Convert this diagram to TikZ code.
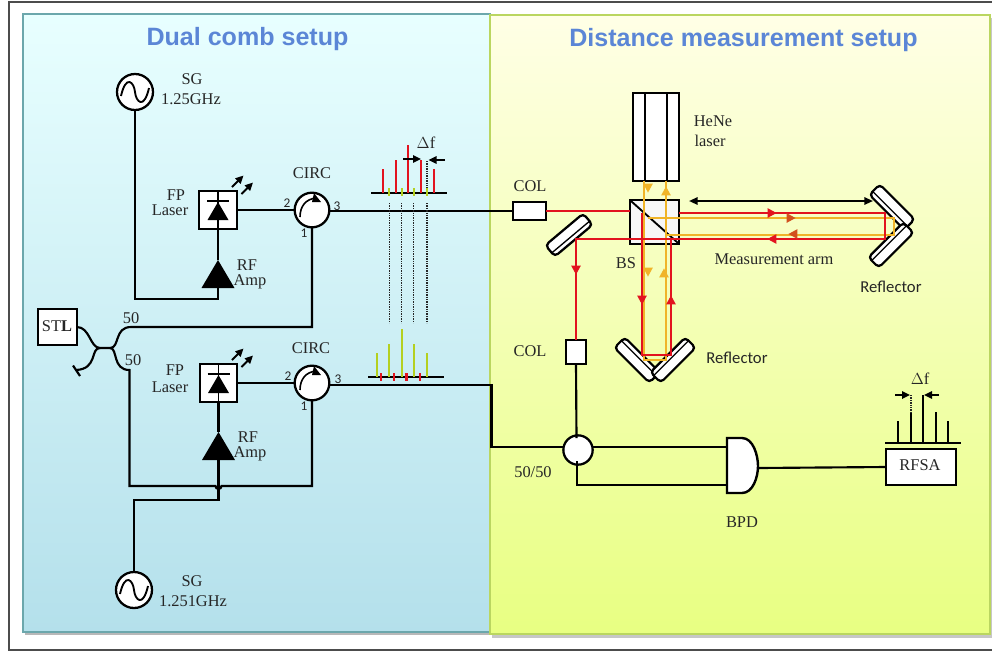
\documentclass[tikz,border=0pt]{standalone}
\usepackage{fontspec}
\setmainfont{Liberation Serif}
\newfontfamily\titlefont{Liberation Sans}
\newfontfamily\calfont{Carlito}
\usetikzlibrary{arrows.meta,calc,shapes.geometric}
\definecolor{titleblue}{HTML}{5B86D6}
\definecolor{beamred}{HTML}{E2131F}
\definecolor{beamyel}{HTML}{F0B428}
\definecolor{beamorg}{HTML}{D2501E}
\definecolor{combgreen}{HTML}{B4D020}
\definecolor{inkk}{HTML}{262626}
\tikzset{
  wire/.style={draw=black,line width=1.6pt},
  box/.style={draw=black,line width=1.7pt,fill=white,inner sep=0pt,outer sep=0pt},
  roundel/.style={circle,draw=black,line width=1.7pt,fill=white,inner sep=0pt,outer sep=0pt},
  lab/.style={font=\fontsize{12.3}{13}\selectfont,text=inkk,inner sep=0pt},
  numlab/.style={font=\calfont\fontsize{10}{11}\selectfont,text=inkk,inner sep=0pt},
  reflab/.style={font=\calfont\fontsize{12.5}{13}\selectfont,text=inkk,inner sep=0pt},
  titlelab/.style={font=\titlefont\bfseries\fontsize{18.8}{20}\selectfont,text=titleblue,inner sep=0pt},
  redbeam/.style={draw=beamred,line width=1.4pt},
  yelbeam/.style={draw=beamyel,line width=1.4pt},
  dots/.style={draw=black!85,line width=1pt,dash pattern=on 1.1pt off 0.7pt},
  tick/.style={line width=1.7pt},
  bigarrow/.style={-{Triangle[length=6pt,width=5.5pt]},line width=1.5pt,draw=black},
}
\newcommand{\atip}[3]{\fill[#3,shift={(#1)},rotate=#2] (3.4pt,0pt) -- (-3.2pt,3.6pt) -- (-3.2pt,-3.6pt) -- cycle;}
\newcommand{\mirrorpart}[3]{%
  \node[box,rectangle,rounded corners=3pt,minimum width=37pt,minimum height=11pt,rotate=#3] (#1) at (#2) {};
  \draw[line width=1pt] ($(#1.south west)!0.32!(#1.north west)$) -- ($(#1.south east)!0.32!(#1.north east)$);}
\newcommand{\sinewave}[1]{\draw[line width=1.4pt] ($(#1)+(-14,4)$) .. controls ($(#1)+(-9,-18)$) and ($(#1)+(-1,-10)$) .. ($(#1)+(0,0)$) .. controls ($(#1)+(1,10)$) and ($(#1)+(9,18)$) .. ($(#1)+(14,-4)$);}
\newcommand{\circarrow}[1]{\draw[line width=1.2pt] ($(#1)+(-12,7)$) .. controls ($(#1)+(-12,-4)$) and ($(#1)+(-6,-11)$) .. ($(#1)+(4,-12)$);
  \fill ($(#1)+(2,-17)$) -- ($(#1)+(9,-8)$) -- ($(#1)+(0,-8)$) -- cycle;}
\newcommand{\diode}[1]{\draw[line width=1.4pt] ($(#1)+(0,-19)$) -- ($(#1)+(0,19)$);
  \draw[line width=1.5pt] ($(#1)+(-11,-9)$) -- ($(#1)+(11,-9)$);
  \fill ($(#1)+(0,-8)$) -- ($(#1)+(10.5,10)$) -- ($(#1)+(-10.5,10)$) -- cycle;}
\begin{document}
\begin{tikzpicture}[x=0.75pt,y=-0.75pt]
\useasboundingbox (0,0) rectangle (992,651);
% page frame
\fill[white] (0,0) rectangle (992,651);
\draw[draw=black!70,line width=0.9pt] (992,2) -- (9,2) -- (9,650) -- (992,650);
% panel shadows
\fill[black!28] (25,17) rectangle (493,635);
\fill[black!22] (492,18) rectangle (992,638);
% panels
\draw[draw=none,top color={rgb,255:red,232;green,255;blue,255},bottom color={rgb,255:red,180;green,224;blue,235}] (23,14) rectangle (490,632);
\draw[draw=none,top color={rgb,255:red,255;green,255;blue,230},bottom color={rgb,255:red,232;green,255;blue,130}] (490,15) rectangle (990,634);
\draw[draw={rgb,255:red,108;green,167;blue,172},line width=1.1pt] (23,14) rectangle (490,632);
\draw[draw={rgb,255:red,186;green,214;blue,96},line width=1.1pt] (490,15) rectangle (990,634);
% titles
\node[titlelab] (t1) at (247.5,39) {Dual comb setup};
\node[titlelab] (t2) at (743.5,40) {Distance measurement setup};

% ---------- sources and boxes, left panel
\node[roundel,minimum size=27pt] (sgA) at (135,92) {};
\node[roundel,minimum size=27pt] (sgB) at (134,590) {};
\node[box,minimum size=28.5pt] (fpA) at (218,210) {};
\node[box,minimum size=28pt] (fpB) at (218.5,383) {};
\node[roundel,minimum size=26pt] (cirA) at (312,210) {};
\node[roundel,minimum size=26pt] (cirB) at (312,383) {};
\node[box,minimum width=29pt,minimum height=27pt] (stl) at (57.5,327) {};
\coordinate (ampAtop) at (218,260);
\coordinate (ampAbot) at (218,288);
\coordinate (ampBtop) at (218.5,432);
\coordinate (ampBbot) at (218.5,460);

% wires left
\coordinate (a1) at (218,299);
\draw[wire] (sgA.south) -- (135,299) -- (a1) -- (ampAbot);
\draw[wire] (ampAtop) -- (fpA.south);
\draw[wire] (fpA.east) -- (cirA.west);
\coordinate (cpTL) at (100,348);
\coordinate (cpTR) at (110,348);
\draw[wire] (stl.east) .. controls (90,327) and (90,348) .. (cpTL) -- (cpTR)
  .. controls (120,348) and (114,327) .. (131,327) -- (312,327) -- (cirA.south);
\coordinate (term) at (76,370);
\draw[wire] (cpTL) .. controls (90,348) and (98,369) .. (term);
\draw[wire] (73,365.5) -- (80,376);
\draw[wire] (cpTR) .. controls (118,348) and (112,370) .. (129.5,370) -- (129.5,486) -- (215.5,486)
  arc[start angle=180,end angle=0,radius=3] -- (312,486) -- (cirB.south);
\draw[wire] (ampBtop) -- (fpB.south);
\draw[wire] (ampBbot) -- (218.5,500) -- (134,500) -- (sgB.north);
\draw[wire] (fpB.east) -- (cirB.west);
% wires to right panel
\node[box,minimum width=24.5pt,minimum height=13.5pt] (colA) at (529.5,211) {};
\node[box,minimum width=15pt,minimum height=18pt] (colB) at (576,352) {};
\node[roundel,minimum size=22pt] (cpl) at (578,450) {};
\draw[wire] (cirA.east|-colA.west) -- (colA.west);
\draw[wire] (cirB.east|-0,385) -- (491.5,385) -- (491.5,447) -- (cpl.west|-0,447);
\draw[wire] (colB.south) -- (576.5,438);
% amps
\fill (ampAtop) -- (234.5,288) -- (201.5,288) -- cycle;
\fill (ampBtop) -- (235,460) -- (202,460) -- cycle;
\diode{fpA}
\diode{fpB}
\sinewave{sgA}
\sinewave{sgB}
\circarrow{cirA}
\circarrow{cirB}
\foreach \s in {0,173}{
  \draw[bigarrow] (232,{187+\s}) -- (243.5,{175.5+\s});
  \draw[bigarrow] (241.5,{194+\s}) -- (253,{182.5+\s});
}
% dotted
\foreach \x in {389.3,401.3,413.5,427}{\draw[dots] (\x,203) -- (\x,323);}
\draw[dots] (427,161) -- (427,190);
% comb A
\draw[line width=1.1pt] (371,193) -- (447,193);
\foreach \x/\y in {383/169,396/160,408/145,421/160,434/169}{\draw[tick,draw=beamred] (\x,193) -- (\x,\y);}
\foreach \x in {389,402,414,427}{\draw[tick,draw=combgreen] (\x,188) -- (\x,196);}
\draw[bigarrow] (403,159) -- (421,159);
\draw[bigarrow] (445,160) -- (428.5,160);
% comb B
\draw[line width=1.1pt] (368,377) -- (444,377);
\foreach \x/\y in {377/353,389/344,402/329,414/344,427/353}{\draw[tick,draw=combgreen] (\x,377) -- (\x,\y);}
\foreach \x in {381,394,406.6,420}{\draw[tick,draw=beamred] (\x,373) -- (\x,381);}

% ---------- right panel
\node[box,minimum width=34.5pt,minimum height=66pt] (hene) at (656,137) {};
\draw[line width=1.5pt] (645,93) -- (645,181);
\draw[line width=1.5pt] (667,93) -- (667,181);
\node[box,fill=black!3,minimum width=37pt,minimum height=33pt] (bs) at (654.5,222) {};
\draw[line width=1.4pt] (bs.north west) -- (bs.south east);
\mirrorpart{mL}{569,235}{40}
\mirrorpart{mBL}{637,360}{135}
\mirrorpart{mBR}{673,360}{225}
\mirrorpart{mRT}{892,207}{-45}
\mirrorpart{mRB}{891,245}{225}
% yellow beams
\draw[yelbeam] (644,181) -- (644,360) -- (666,360) -- (666,181);
\draw[yelbeam] (648,218) -- (894,218) -- (894,235) -- (666,235);
% red beams
\draw[redbeam] (colA.east) -- (bs.west|-0,211);
\draw[redbeam] (642,213) -- (642,355) -- (671,355) -- (671,239);
\draw[redbeam] (bs.east|-0,213) -- (885,213) -- (885,239) -- (576,239) -- (colB.north);
% tips
\atip{648,188}{-90}{beamyel}
\atip{666,191}{90}{beamyel}
\atip{648,272}{-90}{beamyel}
\atip{664,273}{90}{beamyel}
\atip{642,300}{-90}{beamred}
\atip{671,300}{90}{beamred}
\atip{576,270}{-90}{beamred}
\atip{772,213}{0}{beamred}
\atip{772,239}{180}{beamred}
\atip{791,218}{0}{beamorg}
\atip{793,234}{180}{beamorg}
\draw[line width=1.4pt,{Triangle[length=6.5pt,width=5.5pt]}-{Triangle[length=6.5pt,width=5.5pt]}] (689,201) -- (873,201);
% detection
\node[box,minimum width=52.5pt,minimum height=27pt] (rfsa) at (921,467) {};
\draw[wire,fill=white,line width=1.8pt] (727,438) -- (742,438) .. controls (753,438) and (758,455) .. (758,466) .. controls (758,477) and (753,493) .. (742,493) -- (727,493) -- cycle;
\coordinate (bpdout) at (758,468);
\draw[wire] (cpl.east|-0,447) -- (727,447);
\draw[wire] (577,461) -- (577,485) -- (727,485);
\draw[wire] (bpdout) -- (rfsa.west);
\draw[line width=1.1pt] (885,443) -- (961,443);
\foreach \x/\y in {898/421,911/412,923/395,936/412,948/421}{\draw[line width=1.4pt] (\x,443) -- (\x,\y);}
\draw[dots] (911,395) -- (911,412);
\draw[bigarrow] (895,395) -- (910,395);
\draw[bigarrow] (939,395) -- (924,395);

% ---------- labels
\node[lab] (lsgA) at (192,79) {SG};
\node[lab] (lsgA2) at (191,99) {1.25GHz};
\node[lab] (lsgB) at (192,581) {SG};
\node[lab] (lsgB2) at (193,601) {1.251GHz};
\node[lab] (lfpA) at (176,195) {FP};
\node[lab] (lfpA2) at (170,210) {Laser};
\node[lab] (lfpB) at (175,370) {FP};
\node[lab] (lfpB2) at (170,387) {Laser};
\node[lab] (lrfA) at (247,265) {RF};
\node[lab] (lrfA2) at (250,282) {Amp};
\node[lab] (lrfB) at (248,437) {RF};
\node[lab] (lrfB2) at (250,454) {Amp};
\node[lab] (lcirA) at (312,173) {CIRC};
\node[lab] (lcirB) at (311,348) {CIRC};
\node[lab] (lstl) at (57,326) {ST\textbf{L}};
\node[lab] (l50a) at (131,318) {50};
\node[lab] (l50b) at (133,360) {50};
\node[numlab] (nA2) at (287,203) {2};
\node[numlab] (nA3) at (337,206) {3};
\node[numlab] (nA1) at (304,233) {1};
\node[numlab] (nB2) at (288,376) {2};
\node[numlab] (nB3) at (338,379) {3};
\node[numlab] (nB1) at (304,406) {1};
\node[lab] (ldfA) at (426,143) {$\Delta$f};
\node[lab] (ldfB) at (920,379) {$\Delta$f};
\node[lab] (lcolA) at (530,186) {COL};
\node[lab] (lcolB) at (530,351) {COL};
\node[lab] (lbs) at (626,263) {BS};
\node[lab] (lhe) at (713,121) {HeNe};
\node[lab] (lhe2) at (710,141) {laser};
\node[lab] (larm) at (774,259) {Measurement arm};
\node[reflab] (lr1) at (891,287) {Reflector};
\node[reflab] (lr2) at (737,358) {Reflector};
\node[lab] (l5050) at (533,472) {50/50};
\node[lab] (lbpd) at (742,522) {BPD};
\node[lab] (lrfsa) at (920,465) {RFSA};
\end{tikzpicture}
\end{document}
